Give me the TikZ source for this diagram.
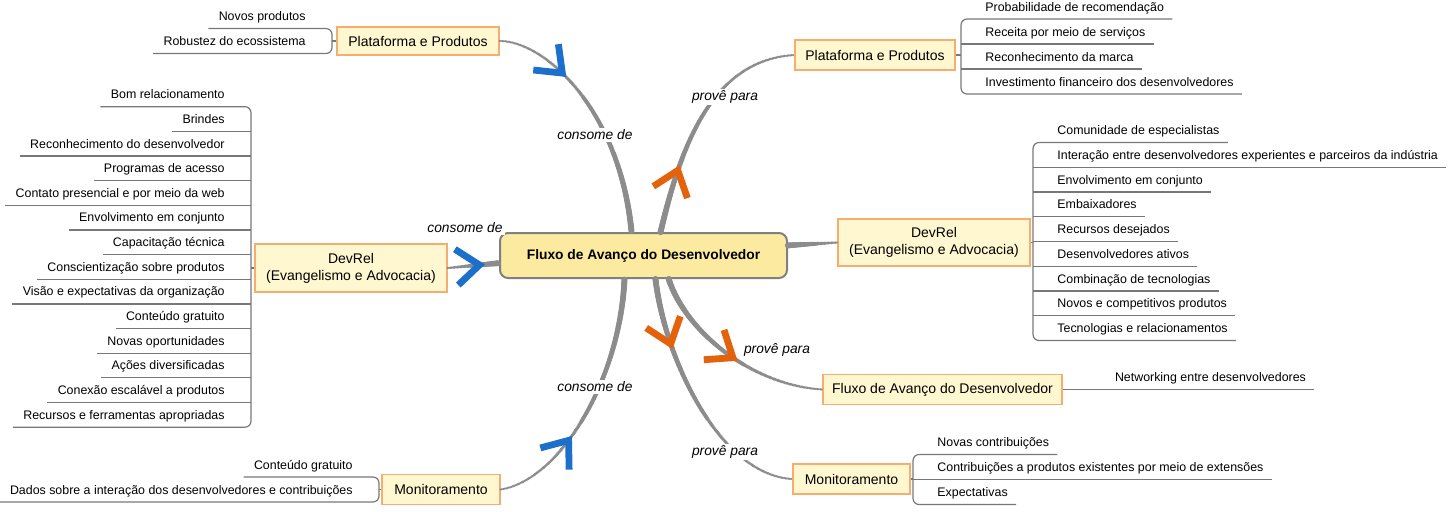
\documentclass[tikz,border=0pt]{standalone}
\usepackage{fontspec}
\setmainfont{Liberation Sans}
\usetikzlibrary{positioning,decorations.markings}

\definecolor{centralFill}{RGB}{252,234,160}
\definecolor{centralLine}{RGB}{128,128,128}
\definecolor{topicFill}{RGB}{255,247,208}
\definecolor{topicLine}{RGB}{245,174,110}
\definecolor{relGray}{RGB}{140,140,140}
\definecolor{twigGray}{RGB}{120,120,120}
\definecolor{consC}{RGB}{28,112,204}
\definecolor{provC}{RGB}{228,98,12}

\newcommand{\leaffont}{\fontsize{6.2}{7}\selectfont}
\newcommand{\topicfont}{\fontsize{7}{8.5}\selectfont}

\tikzset{
  central/.style={draw=centralLine, line width=1pt, fill=centralFill, rounded corners=4pt,
    minimum width=143.5pt, minimum height=22.5pt, font=\fontsize{6.9}{8}\selectfont\bfseries},
  topic/.style={draw=topicLine, line width=0.6pt, fill=topicFill, minimum height=15pt,
    inner xsep=2pt, align=center, font=\topicfont},
  % relationship lines get thicker towards the central topic
  taperIn/.style={decoration={markings, mark=between positions 0 and 1 step 0.7pt with
    {\fill[relGray] (0,0) circle [radius={0.6pt+0.95pt*\pgfkeysvalueof{/pgf/decoration/mark info/distance from start}/\pgfdecoratedpathlength}];}},
    postaction={decorate}},
  taperOut/.style={decoration={markings, mark=between positions 0 and 1 step 0.7pt with
    {\fill[relGray] (0,0) circle [radius={1.55pt-0.95pt*\pgfkeysvalueof{/pgf/decoration/mark info/distance from start}/\pgfdecoratedpathlength}];}},
    postaction={decorate}},
  rellabel/.style={fill=white, inner sep=1pt, font=\fontsize{6.9}{8}\selectfont\itshape},
  twig/.style={draw=twigGray, line width=0.6pt},
  leafR/.style={anchor=south west, inner sep=0pt, text height=4.7pt, text depth=3.8pt, font=\leaffont,
    execute at begin node={\hspace*{12pt}}, execute at end node={\hspace*{4pt}}},
  leafL/.style={anchor=south east, inner sep=0pt, text height=4.7pt, text depth=3.8pt, font=\leaffont,
    execute at begin node={\hspace*{5pt}}, execute at end node={\hspace*{13pt}}},
  pics/chevron/.style={code={\draw[#1, line width=3.4pt, miter limit=20] (-23,18) -- (0,0) -- (-23,-18);}}
}

\begin{document}
\begin{tikzpicture}[x=0.5pt, y=-0.5pt]
  \useasboundingbox (0,0) rectangle (1449,511);

  % central and main topics
  \node[central] (flux) at (643.5,255.5) {Fluxo de Avanço do Desenvolvedor};
  \node[topic, minimum width=81pt, minimum height=14pt] (plL) at (418,41) {Plataforma e Produtos};
  \node[topic, minimum width=80pt] (plR) at (875,55) {Plataforma e Produtos};
  \node[topic, minimum width=96pt, minimum height=24pt] (dvL) at (351,268) {DevRel\\(Evangelismo e Advocacia)};
  \node[topic, minimum width=96pt, minimum height=23.5pt] (dvR) at (934,242.5) {DevRel\\(Evangelismo e Advocacia)};
  \node[topic, minimum width=119.5pt] (flR) at (942.5,389.5) {Fluxo de Avanço do Desenvolvedor};
  \node[topic, minimum width=59pt] (monL) at (441,489.5) {Monitoramento};
  \node[topic, minimum width=58.5pt] (monR) at (851.5,479) {Monitoramento};

  % relationships (consome de / provê para)
  \path[taperIn] (plL.east) .. controls (545,41) and (620,110) .. (flux.117) pic[pos=0.4, sloped] {chevron=consC};
  \path[taperIn] (dvL.east) -- (flux.183) pic[pos=0.62, sloped] {chevron=consC};
  \path[taperIn] (monL.east) .. controls (560,480) and (620,380) .. (flux.231) pic[pos=0.4, sloped] {chevron=consC};
  \path[taperOut] (flux.54) .. controls (680,150) and (710,60) .. (plR.west) pic[pos=0.25, sloped] {chevron=provC};
  \path[taperOut] (flux.4) -- (dvR.west);
  \path[taperOut] (flux.317) .. controls (685,330) and (750,385) .. (flR.west) pic[pos=0.55, sloped] {chevron=provC};
  \path[taperOut] (flux.297) .. controls (665,360) and (720,475) .. (monR.west) pic[pos=0.25, sloped] {chevron=provC};

  \node[rellabel] (lbC1) at (595,135) {consome de};
  \node[rellabel] (lbC2) at (465,228) {consome de};
  \node[rellabel] (lbC3) at (595,387) {consome de};
  \node[rellabel] (lbP1) at (725,97) {provê para};
  \node[rellabel] (lbP2) at (777,350) {provê para};
  \node[rellabel] (lbP3) at (725,452) {provê para};

  % right side subtopics
  \foreach \t [count=\i] in {Probabilidade de recomendação, Receita por meio de serviços,
      Reconhecimento da marca, Investimento financeiro dos desenvolvedores}
    \node[leafR] (pr\i) at (961,{19+25*(\i-1)}) {\t};
  \draw[twig, rounded corners=3pt] (pr1.south east) -- (pr1.south west) -- (pr4.south west) -- (pr4.south east);
  \foreach \i in {2,3} \draw[twig] (pr\i.south west) -- (pr\i.south east);
  \draw[twig] (plR.east) -- (plR.east -| pr1.south west);

  \foreach \t [count=\i] in {Comunidade de especialistas,
      Interação entre desenvolvedores experientes e parceiros da indústria,
      Envolvimento em conjunto, Embaixadores, Recursos desejados, Desenvolvedores ativos,
      Combinação de tecnologias, Novos e competitivos produtos, Tecnologias e relacionamentos}
    \node[leafR] (dr\i) at (1033,{142.5+24.75*(\i-1)}) {\t};
  \draw[twig, rounded corners=3pt] (dr1.south east) -- (dr1.south west) -- (dr9.south west) -- (dr9.south east);
  \foreach \i in {2,...,8} \draw[twig] (dr\i.south west) -- (dr\i.south east);
  \draw[twig] (dvR.east) -- (dvR.east -| dr1.south west);

  \node[leafR, execute at begin node={\hspace*{14pt}}] (nw1) at (flR.east) {Networking entre desenvolvedores};
  \draw[twig] (nw1.south west) -- (nw1.south east);

  \foreach \t [count=\i] in {Novas contribuições, Contribuições a produtos existentes por meio de extensões, Expectativas}
    \node[leafR] (mr\i) at (913,{454.5+25*(\i-1)}) {\t};
  \draw[twig, rounded corners=3pt] (mr1.south east) -- (mr1.south west) -- (mr3.south west) -- (mr3.south east);
  \draw[twig] (mr2.south west) -- (mr2.south east);
  \draw[twig] (monR.east) -- (monR.east -| mr1.south west);

  % left side subtopics
  \foreach \t [count=\i] in {Novos produtos, Robustez do ecossistema}
    \node[leafL] (pl\i) at (332,{28.5+25*(\i-1)}) {\t};
  \draw[twig, rounded corners=3pt] (pl1.south west) -- (pl1.south east) -- (pl2.south east) -- (pl2.south west);
  \draw[twig] (plL.west) -- (plL.west -| pl1.south east);

  \foreach \t [count=\i] in {Bom relacionamento, Brindes, Reconhecimento do desenvolvedor,
      Programas de acesso, Contato presencial e por meio da web, Envolvimento em conjunto,
      Capacitação técnica, Conscientização sobre produtos, Visão e expectativas da organização,
      Conteúdo gratuito, Novas oportunidades, Ações diversificadas,
      Conexão escalável a produtos, Recursos e ferramentas apropriadas}
    \node[leafL] (dl\i) at (251,{106.7+24.65*(\i-1)}) {\t};
  \draw[twig, rounded corners=3pt] (dl1.south west) -- (dl1.south east) -- (dl14.south east) -- (dl14.south west);
  \foreach \i in {2,...,13} \draw[twig] (dl\i.south west) -- (dl\i.south east);
  \draw[twig] (dvL.west) -- (dvL.west -| dl1.south east);

  \foreach \t [count=\i] in {Conteúdo gratuito, Dados sobre a interação dos desenvolvedores e contribuições}
    \node[leafL] (ml\i) at (379,{477+25*(\i-1)}) {\t};
  \draw[twig, rounded corners=3pt] (ml1.south west) -- (ml1.south east) -- (ml2.south east) -- (ml2.south west);
  \draw[twig] (monL.west) -- (monL.west -| ml1.south east);
\end{tikzpicture}
\end{document}
